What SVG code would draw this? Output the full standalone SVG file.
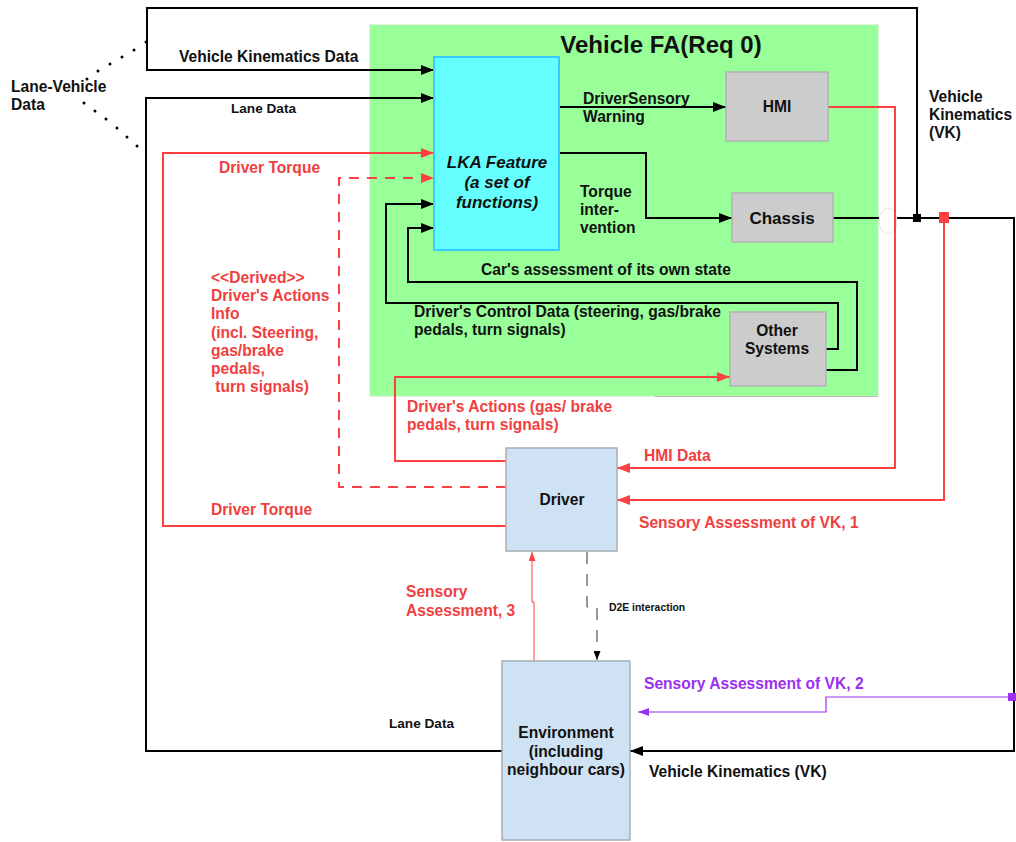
<svg xmlns="http://www.w3.org/2000/svg" width="1016" height="842" viewBox="0 0 1016 842">
  <defs>
    <style>
      text{font-family:"Liberation Sans",Arial,Helvetica,sans-serif;font-weight:bold;font-size:15.6px;fill:#111}
      .red{fill:#f04040}
      .purple{fill:#9b30f0}
      .ln{fill:none;stroke:#000;stroke-width:2}
      .rl{fill:none;stroke:#ff4040;stroke-width:2}
      .rd{fill:none;stroke:#ff4040;stroke-width:2;stroke-dasharray:10 8}
      .box{fill:#cccccc;stroke:#b3b3b3;stroke-width:1.5}
      .blue{fill:#cfe2f3;stroke:#a6adb4;stroke-width:1.5}
      .mid{text-anchor:middle}
    </style>
    <marker id="ab" markerUnits="userSpaceOnUse" markerWidth="13" markerHeight="10" refX="13" refY="5" orient="auto">
      <path d="M0,0L13,5L0,10z" fill="#000"/>
    </marker>
    <marker id="ar" markerUnits="userSpaceOnUse" markerWidth="13" markerHeight="10" refX="13" refY="5" orient="auto">
      <path d="M0,0L13,5L0,10z" fill="#ff4040"/>
    </marker>
    <marker id="ars" markerUnits="userSpaceOnUse" markerWidth="9" markerHeight="7" refX="9" refY="3.5" orient="auto">
      <path d="M0,0L9,3.5L0,7z" fill="#ff4040"/>
    </marker>
    <marker id="ap" markerUnits="userSpaceOnUse" markerWidth="11" markerHeight="8" refX="11" refY="4" orient="auto">
      <path d="M0,0L11,4L0,8z" fill="#9b30f0"/>
    </marker>
    <marker id="abs" markerUnits="userSpaceOnUse" markerWidth="9" markerHeight="7" refX="9" refY="3.5" orient="auto">
      <path d="M0,0L9,3.5L0,7z" fill="#000"/>
    </marker>
  </defs>

  <rect width="1016" height="842" fill="#fff"/>

  <!-- system boundary -->
  <g id="vehicle-fa">
    <rect x="370" y="25" width="508" height="371" fill="#99ff99" stroke="#b8efb0" stroke-width="1"/>
    <line x1="655" y1="396.5" x2="878" y2="396.5" stroke="#bbbbbb" stroke-width="1"/>
    <text x="661" y="53" class="mid" style="font-size:24px">Vehicle FA(Req 0)</text>
  </g>

  <!-- connectors -->
  <g id="connectors">
    <!-- outer black loops -->
    <path class="ln" d="M917,218 V8 H147 V70 H434" marker-end="url(#ab)"/>
    <path class="ln" d="M502,751 H146 V98 H434" marker-end="url(#ab)"/>
    <path class="ln" d="M833,218 H1014 V751 H630" marker-end="url(#ab)"/>

    <!-- inside vehicle -->
    <path class="ln" d="M559,107 H726" marker-end="url(#ab)"/>
    <path class="ln" d="M559,153 H646 V218 H732" marker-end="url(#ab)"/>
    <path class="ln" d="M826,370 H857 V282 H408 V228 H434" marker-end="url(#ab)"/>
    <path class="ln" d="M826,349 H838 V303 H386 V204 H434" marker-end="url(#ab)"/>

    <!-- line hop where HMI data crosses the VK line -->
    <ellipse cx="888" cy="221" rx="9" ry="13" fill="#fff" stroke="#e2e2e2" stroke-width="1"/>

    <!-- red driver flows -->
    <path class="rl" d="M506,526 H163 V153 H434" marker-end="url(#ar)"/>
    <path class="rd" d="M506,487 H339 V178 H434" marker-end="url(#ar)"/>
    <path class="rl" d="M506,461 H395 V377 H730" marker-end="url(#ar)"/>
    <path class="rl" d="M828,107 H895 V468 H617" marker-end="url(#ar)"/>
    <path class="rl" d="M944,218 V500 H617" marker-end="url(#ar)"/>
    <path fill="none" stroke="#ff4040" stroke-width="1" d="M534,661 V602 H532 V552" marker-end="url(#ars)"/>

    <!-- purple VK assessment -->
    <path fill="none" stroke="#9b30f0" stroke-width="1.2" d="M1012,697 H826 V712 H638" marker-end="url(#ap)"/>

    <!-- D2E interaction -->
    <path fill="none" stroke="#333" stroke-width="1" stroke-dasharray="12 10" d="M587,552 V607 H597 V660" marker-end="url(#abs)"/>

    <!-- junction points -->
    <rect x="913" y="214" width="8" height="8" fill="#000"/>
    <rect x="939" y="212" width="10" height="11" fill="#ff4040"/>
    <rect x="1008" y="693" width="8" height="8" fill="#9b30f0"/>

    <!-- Lane-Vehicle data dotted leaders -->
    <g fill="#000">
      <circle cx="146" cy="42" r="1.5"/><circle cx="134" cy="50" r="1.5"/><circle cx="122" cy="57" r="1.5"/>
      <circle cx="110" cy="64" r="1.5"/><circle cx="98" cy="71" r="1.5"/><circle cx="87" cy="79" r="1.5"/>
      <circle cx="84" cy="103" r="1.5"/><circle cx="95" cy="111" r="1.5"/><circle cx="106" cy="119" r="1.5"/>
      <circle cx="117" cy="128" r="1.5"/><circle cx="127" cy="137" r="1.5"/><circle cx="137" cy="146" r="1.5"/>
    </g>
  </g>

  <!-- nodes -->
  <g id="lka-feature">
    <rect x="434" y="57" width="125" height="193" fill="#66ffff" stroke="#33ccff" stroke-width="2"/>
    <text x="497" y="168" class="mid" style="font-size:17px;font-style:italic">LKA Feature</text>
    <text x="497" y="188" class="mid" style="font-size:17px;font-style:italic">(a set of</text>
    <text x="497" y="208" class="mid" style="font-size:17px;font-style:italic">functions)</text>
  </g>

  <g id="hmi">
    <rect x="726" y="72" width="102" height="69" class="box"/>
    <text x="777" y="112" class="mid">HMI</text>
  </g>

  <g id="chassis">
    <rect x="732" y="193" width="101" height="49" class="box"/>
    <text x="782" y="224" class="mid" style="font-size:17px">Chassis</text>
  </g>

  <g id="other-systems">
    <rect x="730" y="312" width="96" height="74" class="box"/>
    <text x="777" y="336" class="mid">Other</text>
    <text x="777" y="354" class="mid">Systems</text>
  </g>

  <g id="driver">
    <rect x="506" y="448" width="111" height="103" class="blue"/>
    <text x="562" y="505" class="mid">Driver</text>
  </g>

  <g id="environment">
    <rect x="502" y="661" width="128" height="179" class="blue"/>
    <text x="566" y="738" class="mid">Environment</text>
    <text x="566" y="757" class="mid">(including</text>
    <text x="566" y="775" class="mid">neighbour cars)</text>
  </g>

  <!-- connector labels -->
  <g id="labels">
    <text x="11" y="92">Lane-Vehicle</text>
    <text x="11" y="110">Data</text>
    <text x="179" y="62">Vehicle Kinematics Data</text>
    <text x="231" y="113" style="font-size:13.6px">Lane Data</text>
    <text x="583" y="104">DriverSensory</text>
    <text x="583" y="122">Warning</text>
    <text x="580" y="197">Torque</text>
    <text x="580" y="215">inter-</text>
    <text x="580" y="233">vention</text>
    <text x="481" y="275">Car's assessment of its own state</text>
    <text x="414" y="317">Driver's Control Data (steering, gas/brake</text>
    <text x="414" y="335">pedals, turn signals)</text>
    <text x="929" y="102">Vehicle</text>
    <text x="929" y="120">Kinematics</text>
    <text x="929" y="138">(VK)</text>

    <text x="219" y="173" class="red">Driver Torque</text>
    <text x="211" y="283" class="red">&lt;&lt;Derived&gt;&gt;</text>
    <text x="211" y="301" class="red">Driver's Actions</text>
    <text x="211" y="319" class="red">Info</text>
    <text x="211" y="338" class="red">(incl. Steering,</text>
    <text x="211" y="356" class="red">gas/brake</text>
    <text x="211" y="374" class="red">pedals,</text>
    <text x="211" y="392" class="red" xml:space="preserve"> turn signals)</text>
    <text x="407" y="412" class="red">Driver's Actions (gas/ brake</text>
    <text x="407" y="430" class="red">pedals, turn signals)</text>
    <text x="644" y="461" class="red">HMI Data</text>
    <text x="211" y="515" class="red">Driver Torque</text>
    <text x="639" y="528" class="red">Sensory Assessment of VK, 1</text>
    <text x="406" y="597" class="red">Sensory</text>
    <text x="406" y="616" class="red">Assessment, 3</text>
    <text x="609" y="611" style="font-size:10.4px">D2E interaction</text>
    <text x="644" y="689" class="purple">Sensory Assessment of VK, 2</text>
    <text x="389" y="728" style="font-size:13.6px">Lane Data</text>
    <text x="649" y="777">Vehicle Kinematics (VK)</text>
  </g>
</svg>
